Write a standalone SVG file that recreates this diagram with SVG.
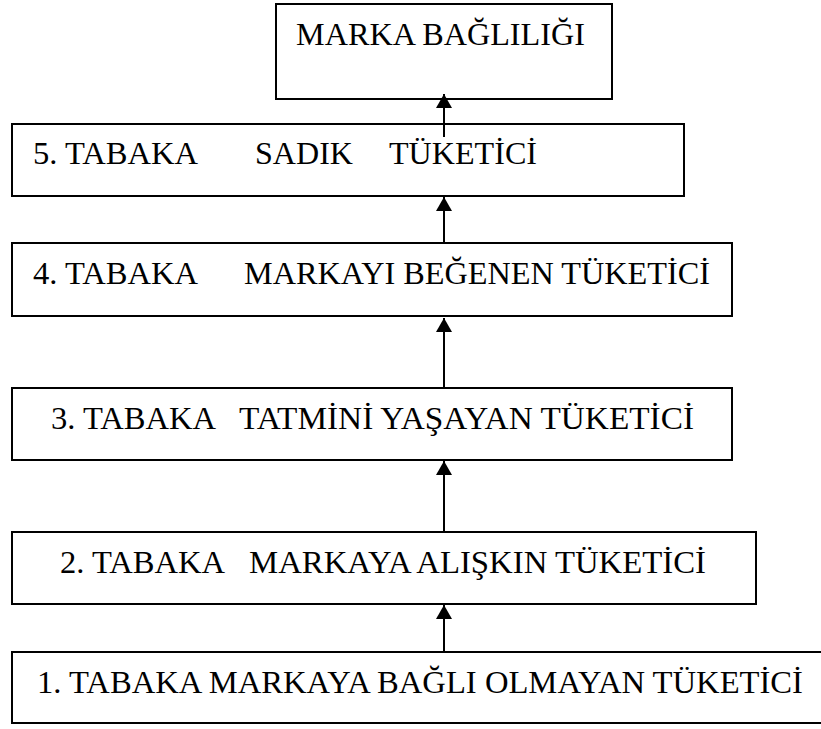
<svg xmlns="http://www.w3.org/2000/svg" width="821" height="729" viewBox="0 0 821 729">
  <style>
    .box { fill: #ffffff; stroke: #000000; stroke-width: 2; }
    .lbl { font-family: "Liberation Serif", "Times New Roman", serif; font-size: 32.5px; fill: #000000; }
    .end { text-anchor: end; }
    .conn { stroke: #000000; stroke-width: 2; fill: none; }
  </style>
  <defs>
    <marker id="arrow" markerUnits="userSpaceOnUse" markerWidth="14" markerHeight="16" refX="14" refY="8" orient="auto">
      <path d="M0,0 L14,8 L0,16 z" fill="#000000"/>
    </marker>
  </defs>
  <rect x="0" y="0" width="821" height="729" fill="#ffffff"/>

  <g id="node-marka-bagliligi">
    <rect class="box" x="276" y="4" width="336" height="95"/>
    <text class="lbl" x="296" y="45" textLength="289" lengthAdjust="spacingAndGlyphs">MARKA BAĞLILIĞI</text>
  </g>

  <g id="node-tabaka-5">
    <rect class="box" x="12" y="124" width="672" height="72"/>
    <text class="lbl" x="33" y="163.5" textLength="165" lengthAdjust="spacingAndGlyphs">5. TABAKA</text>
    <text class="lbl" x="255" y="163.5" textLength="98" lengthAdjust="spacingAndGlyphs">SADIK</text>
    <text class="lbl" x="389" y="163.5" textLength="148" lengthAdjust="spacingAndGlyphs">TÜKETİCİ</text>
  </g>

  <g id="node-tabaka-4">
    <rect class="box" x="12" y="243" width="720" height="73"/>
    <text class="lbl" x="33" y="284" textLength="165" lengthAdjust="spacingAndGlyphs">4. TABAKA</text>
    <text class="lbl" x="244" y="284" textLength="466" lengthAdjust="spacingAndGlyphs">MARKAYI BEĞENEN TÜKETİCİ</text>
  </g>

  <g id="node-tabaka-3">
    <rect class="box" x="12" y="388" width="720" height="72"/>
    <text class="lbl" x="51" y="429" textLength="165" lengthAdjust="spacingAndGlyphs">3. TABAKA</text>
    <text class="lbl" x="239" y="429" textLength="455" lengthAdjust="spacingAndGlyphs">TATMİNİ YAŞAYAN TÜKETİCİ</text>
  </g>

  <g id="node-tabaka-2">
    <rect class="box" x="12" y="532" width="744" height="72"/>
    <text class="lbl" x="60" y="573" textLength="165" lengthAdjust="spacingAndGlyphs">2. TABAKA</text>
    <text class="lbl" x="249" y="573" textLength="457" lengthAdjust="spacingAndGlyphs">MARKAYA ALIŞKIN TÜKETİCİ</text>
  </g>

  <g id="node-tabaka-1">
    <rect class="box" x="12" y="652" width="820" height="71"/>
    <text class="lbl" x="37" y="693" textLength="766" lengthAdjust="spacingAndGlyphs">1. TABAKA MARKAYA BAĞLI OLMAYAN TÜKETİCİ</text>
  </g>

  <g id="connectors">
    <line class="conn" x1="444" y1="137" x2="444" y2="94" marker-end="url(#arrow)"/>
    <line class="conn" x1="444" y1="243" x2="444" y2="197" marker-end="url(#arrow)"/>
    <line class="conn" x1="444" y1="388" x2="444" y2="318" marker-end="url(#arrow)"/>
    <line class="conn" x1="444" y1="532" x2="444" y2="461" marker-end="url(#arrow)"/>
    <line class="conn" x1="444" y1="652" x2="444" y2="605" marker-end="url(#arrow)"/>
  </g>
</svg>
